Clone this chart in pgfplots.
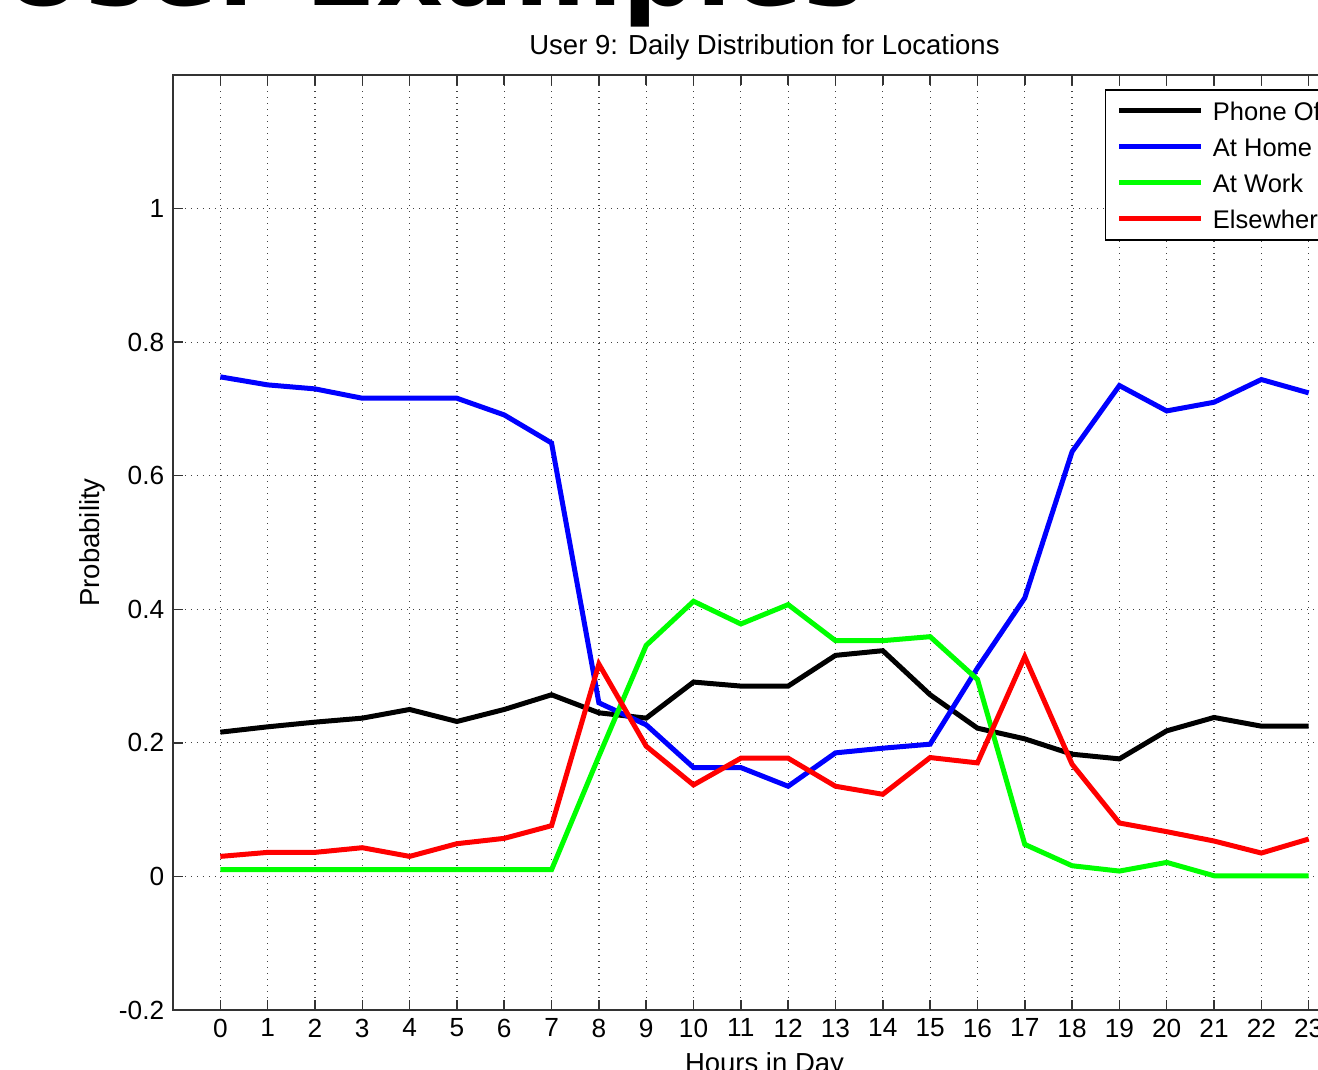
\documentclass[border=0pt]{standalone}
\usepackage{pgfplots}
\pgfplotsset{compat=1.18}
\usepackage{fontspec}
\setmainfont{Liberation Sans}
\newfontfamily\headfont{DejaVu Sans}

\pgfplotstableread{
h off home work else
0 0.216 0.748 0.010 0.030
1 0.224 0.736 0.010 0.036
2 0.231 0.730 0.010 0.036
3 0.237 0.716 0.010 0.043
4 0.250 0.716 0.010 0.030
5 0.232 0.716 0.010 0.049
6 0.250 0.691 0.010 0.057
7 0.272 0.649 0.010 0.076
8 0.245 0.260 0.180 0.318
9 0.237 0.227 0.346 0.195
10 0.291 0.163 0.412 0.137
11 0.285 0.163 0.378 0.177
12 0.285 0.135 0.407 0.177
13 0.331 0.185 0.353 0.135
14 0.338 0.192 0.353 0.123
15 0.272 0.198 0.359 0.178
16 0.222 0.312 0.295 0.170
17 0.206 0.417 0.048 0.329
18 0.183 0.636 0.016 0.168
19 0.176 0.735 0.008 0.080
20 0.218 0.697 0.021 0.067
21 0.238 0.710 0.001 0.053
22 0.225 0.744 0.001 0.035
23 0.225 0.724 0.001 0.056
}\datatable

\begin{document}
\begin{tikzpicture}
\useasboundingbox (0,0) rectangle (527.2pt,428pt);
\clip (0,0) rectangle (527.2pt,428pt);
\node[anchor=base west, inner sep=0pt, font=\headfont\bfseries\fontsize{41.6}{45}\selectfont] at (0.4pt,425.6pt) {User Examples};
\begin{axis}[
  at={(69.2pt,24pt)}, anchor=south west,
  scale only axis, width=473.2pt, height=374pt,
  xmin=-1, xmax=24, ymin=-0.2, ymax=1.2,
  xtick={0,1,...,23},
  ytick={-0.2,0,0.2,0.4,0.6,0.8,1},
  yticklabels={-0.2,0,0.2,0.4,0.6,0.8,1},
  tick align=inside,
  major tick length=4pt,
  xmajorgrids, ymajorgrids,
  grid style={dotted, black!75, line width=0.5pt},
  axis line style={black!80, line width=0.6pt},
  tick style={black!80, line width=0.6pt},
  ticklabel style={font=\fontsize{10.5}{12}\selectfont},
  /pgf/number format/assume math mode=true,
  title={User 9: Daily Distribution for Locations},
  title style={font=\fontsize{11}{13}\selectfont, at={(axis description cs:0.5,1)}, anchor=south, inner sep=0pt, yshift=-0.4pt},
  xlabel={Hours in Day},
  xlabel style={font=\fontsize{11}{13}\selectfont, at={(axis description cs:0.5,0)}, anchor=north, inner sep=0pt, yshift=-17pt},
  ylabel={Probability},
  ylabel style={font=\fontsize{11}{13}\selectfont, at={(axis description cs:-0.0685,0.5)}, anchor=center},
  legend cell align=left,
  legend style={at={(axis description cs:0.7878,0.985)}, anchor=north west, draw=black, line width=0.6pt, fill=white,
    font=\fontsize{10.2}{12}\selectfont, inner xsep=4.5pt, inner ysep=3.5pt, row sep=4.5pt,
    nodes={inner sep=0pt, text height=8.6pt, text depth=1.3pt},
    /tikz/every odd column/.append style={column sep=3.6pt}},
  legend image code/.code={\draw[#1] (0pt,0pt) -- (32.8pt,0pt);},
]
\addplot[black, line width=2pt] table[x=h, y=off] {\datatable};
\addlegendentry{Phone Off}
\addplot[blue, line width=2pt] table[x=h, y=home] {\datatable};
\addlegendentry{At Home}
\addplot[green, line width=2pt] table[x=h, y=work] {\datatable};
\addlegendentry{At Work}
\addplot[red, line width=2pt] table[x=h, y=else] {\datatable};
\addlegendentry{Elsewhere}
\end{axis}
\end{tikzpicture}
\end{document}
